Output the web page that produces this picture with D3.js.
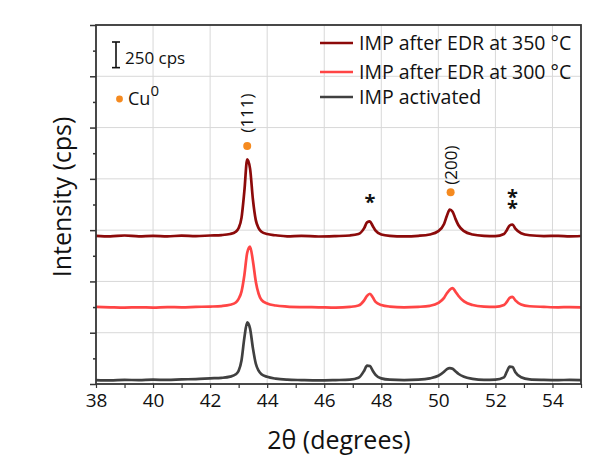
<!DOCTYPE html>
<html><head><meta charset="utf-8">
<script src="https://cdn.jsdelivr.net/npm/d3@7"></script>
<style>body{margin:0;background:#fff}svg{display:block}text{font-family:"Open Sans","Noto Sans",sans-serif;fill:#111}</style>
</head><body><svg id="c" width="601" height="458" xmlns="http://www.w3.org/2000/svg"></svg>
<script>
const twoTheta = [38.0,38.5,39.0,39.5,40.0,40.5,41.0,41.5,42.0,42.4,42.7,42.9,43.0,43.1,43.2,43.3,43.4,43.5,43.6,43.7,43.8,44.0,44.3,44.7,45.2,45.8,46.4,46.9,47.2,47.4,47.5,47.6,47.7,47.8,48.0,48.3,48.8,49.3,49.7,50.0,50.2,50.3,50.4,50.5,50.6,50.7,50.9,51.2,51.6,52.0,52.3,52.4,52.5,52.6,52.7,52.9,53.2,53.7,54.2,54.6,55.0];
const edr350 = [1445,1440,1448,1440,1445,1440,1446,1442,1448,1452,1462,1485,1520,1620,1880,2190,2100,1800,1600,1520,1485,1462,1450,1440,1445,1438,1442,1448,1462,1520,1575,1585,1540,1495,1458,1445,1440,1445,1458,1490,1560,1640,1700,1680,1610,1550,1490,1458,1445,1442,1462,1500,1545,1555,1515,1470,1450,1442,1445,1440,1443];
const edr300 = [752,748,745,748,745,750,748,752,755,760,772,795,830,900,1060,1280,1340,1200,1000,880,820,785,765,755,750,748,745,752,765,815,860,880,845,800,770,755,748,752,762,790,840,885,920,935,900,860,805,770,755,752,770,800,840,850,815,775,758,752,748,750,748];
const activated = [38,35,40,38,42,40,45,48,55,60,72,95,130,230,450,600,540,350,200,130,95,70,52,42,38,35,38,42,60,130,180,175,130,90,55,42,38,42,55,80,120,145,155,148,125,100,70,50,40,42,65,120,170,165,115,65,45,40,38,40,38];
const seriesNames = ["IMP after EDR at 350 °C","IMP after EDR at 300 °C","IMP activated"];
const seriesColors = ["#8c0a0a","#ff4545","#404040"];
const xTicks = [38,40,42,44,46,48,50,52,54];
const cuPeakX = [43.3,50.43];
const cuDotY = [2320,1870];
const cuLabels = ["(111)","(200)"];
const starX = [47.6,52.6];
const starY = [1800,1850];
const starCount = [1,2];

const svg = d3.select("#c");
const PL=96,PR=581,PT=25,PB=384;
const x = d3.scaleLinear().domain([38,55]).range([PL,PR]);
const y = d3.scaleLinear().domain([0,3500]).range([PB,PT]);

// grid
const grid = svg.append("g");
grid.selectAll("line.gx").data(xTicks.slice(1)).join("line").attr("class","gx")
  .attr("x1",d=>x(d)).attr("x2",d=>x(d)).attr("y1",PT).attr("y2",PB)
  .style("stroke","#d8d8d8").style("stroke-width","1px");
grid.selectAll("line.gy").data(d3.range(500,3500,500)).join("line").attr("class","gy")
  .attr("x1",PL).attr("x2",PR).attr("y1",d=>y(d)).attr("y2",d=>y(d))
  .style("stroke","#d8d8d8").style("stroke-width","1px");

// lines
const line = d3.line().x((d,i)=>x(twoTheta[i])).y(d=>y(d)).curve(d3.curveMonotoneX);
[edr350,edr300,activated].forEach((s,i)=>{
  svg.append("path").attr("d",line(s)).attr("fill","none")
   .attr("stroke",seriesColors[i]).attr("stroke-width",2.7).attr("stroke-linejoin","round");
});

// axes
const xMinor = d3.range(38,56,1);
const xa = svg.append("g").attr("transform",`translate(0,${PB})`)
 .call(d3.axisBottom(x).tickValues(xMinor).tickSize(4).tickPadding(6).tickFormat(d=>xTicks.includes(d)?d:""));
xa.select(".domain").remove();
xa.selectAll(".tick line").attr("stroke","#333").attr("stroke-width",1.2);
xa.selectAll("text").attr("font-size",19).style("font-family",'"Open Sans",sans-serif').style("fill","#111");
const ya = svg.append("g").attr("transform",`translate(${PL},0)`)
 .call(d3.axisLeft(y).tickValues(d3.range(0,3501,250)).tickSize(0).tickFormat(""));
ya.select(".domain").remove();
ya.selectAll(".tick").append("line").attr("x1",d=>d%500===0?-6:-3).attr("x2",0)
 .attr("stroke","#333").attr("stroke-width",1.5);

// frame
svg.append("rect").attr("x",PL).attr("y",PT).attr("width",PR-PL).attr("height",PB-PT)
 .attr("fill","none").attr("stroke","#363636").attr("stroke-width",1.8);

// axis titles
svg.append("text").attr("x",339).attr("y",449).attr("text-anchor","middle")
 .attr("font-size",25).text("2θ (degrees)");
svg.append("text").attr("transform","translate(71,197) rotate(-90)").attr("text-anchor","middle")
 .attr("font-size",25).text("Intensity (cps)");

// annotations
cuPeakX.forEach((px,i)=>{
  svg.append("circle").attr("cx",x(px)).attr("cy",y(cuDotY[i])).attr("r",4).attr("fill","#f58a1f");
  svg.append("text").attr("transform",`translate(${x(px)+6},${y(cuDotY[i])-(i===0?33:27)}) rotate(-90)`)
   .attr("text-anchor","middle").attr("font-size",17).text(cuLabels[i]);
});
starX.forEach((sx,i)=>{
  const t = svg.append("text").attr("x",x(sx)).attr("y",y(starY[i])+10).attr("text-anchor","middle")
   .attr("font-size",20).attr("font-weight","bold");
  for(let k=0;k<starCount[i];k++){
    t.append("tspan").attr("x",x(sx)).attr("dy",k===0?0:11).text("*");
  }
});

// scale bar
const sb = svg.append("g").attr("fill","#111");
const sbx=116, sTop=42, sBot=sTop+(y(0)-y(250));
sb.append("rect").attr("x",sbx-0.8).attr("y",sTop).attr("width",1.6).attr("height",sBot-sTop);
sb.append("rect").attr("x",sbx-4).attr("y",sTop-0.8).attr("width",8).attr("height",1.6);
sb.append("rect").attr("x",sbx-4).attr("y",sBot-0.8).attr("width",8).attr("height",1.6);
svg.append("text").attr("x",125).attr("y",64).attr("font-size",17).text("250 cps");
svg.append("circle").attr("cx",119.5).attr("cy",99).attr("r",3.4).attr("fill","#f58a1f");
const cu = svg.append("text").attr("x",128).attr("y",105).attr("font-size",18);
cu.append("tspan").text("Cu");
cu.append("tspan").attr("dy",-9).attr("font-size",15).text("0");

// legend
const lg = svg.append("g");
const ly=[43,72,97];
seriesNames.forEach((n,i)=>{
  lg.append("line").attr("x1",320).attr("x2",353).attr("y1",ly[i]).attr("y2",ly[i])
   .attr("stroke",seriesColors[i]).attr("stroke-width",2.7);
  lg.append("text").attr("x",359).attr("y",ly[i]+7).attr("font-size",19.5).text(n);
});
</script></body></html>
